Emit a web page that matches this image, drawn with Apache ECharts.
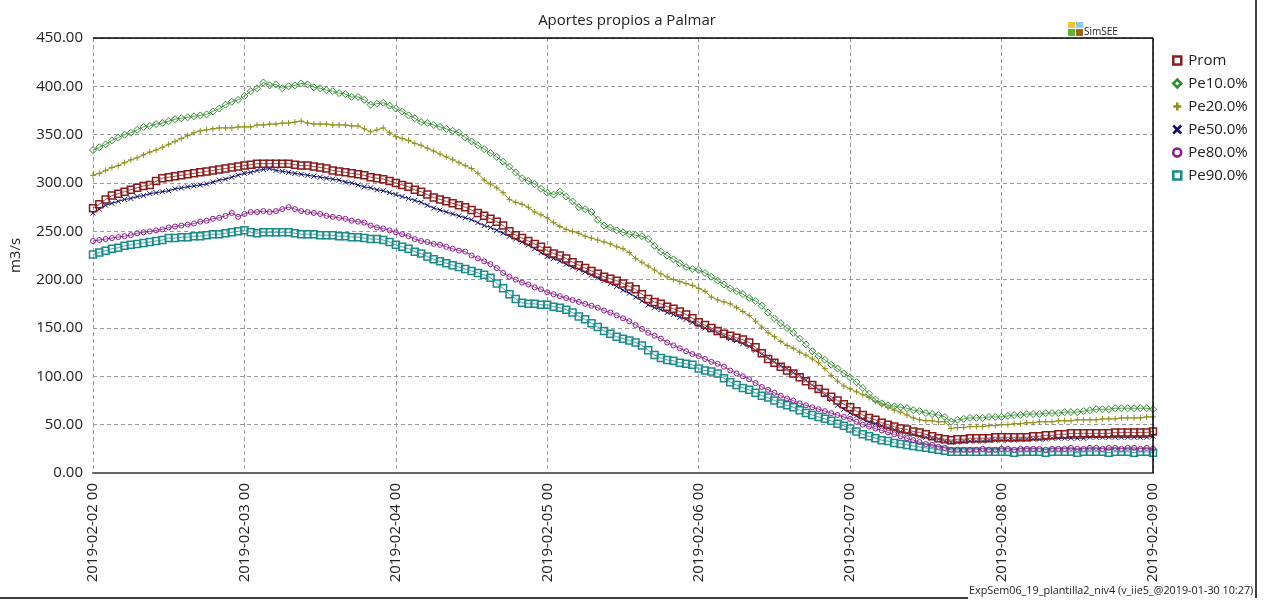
<!DOCTYPE html>
<html><head><meta charset="utf-8">
<script src="https://cdn.jsdelivr.net/npm/echarts@6/dist/echarts.min.js"></script>
<style>html,body{margin:0;padding:0;background:#fff}#c{width:1268px;height:601px}</style>
</head><body><div id="c"></div>
<script>
// hours from 2019-02-02 00 (hourly, 0..168)
const tickLabels = ['2019-02-02 00','2019-02-03 00','2019-02-04 00','2019-02-05 00','2019-02-06 00','2019-02-07 00','2019-02-08 00','2019-02-09 00'];
const seriesNames = ['Prom','Pe10.0%','Pe20.0%','Pe50.0%','Pe80.0%','Pe90.0%'];

const prom = [274,278,283,287,289,291,293,295,297,298,302,305,306,307,308,309,310,311,312,313,314,315,316,317,
318,319,320,320,320,320,320,320,319,318,318,317,316,315,313,312,311,310,309,308,306,305,304,302,
300,298,296,293,291,288,285,283,281,279,277,275,272,269,266,263,260,256,250,246,243,240,237,234,
230,227,225,222,218,215,212,209,206,203,201,199,196,193,190,185,180,177,175,172,170,167,164,160,
156,153,150,147,144,142,140,138,135,130,124,118,114,110,106,103,99,95,91,87,83,79,75,71,
68,64,60,57,55,52,50,48,46,45,43,42,40,38,36,35,34,35,35,36,36,36,36,37,
37,37,37,37,37,38,38,39,39,40,40,41,41,41,41,41,41,41,42,42,42,42,42,42,43];

const pe10 = [334,337,340,344,347,350,352,355,358,359,361,362,364,366,367,368,369,370,371,374,377,381,384,386,
390,395,398,404,401,402,398,400,401,403,402,399,398,396,395,393,392,389,389,386,381,382,383,380,
377,374,370,367,363,362,360,358,356,354,352,347,343,339,335,331,327,322,317,311,305,302,299,294,
290,288,291,286,281,275,273,270,262,256,254,251,249,247,246,245,242,235,229,225,221,217,213,211,
210,207,203,199,195,191,188,185,181,178,173,166,160,155,150,145,139,133,126,121,117,112,108,103,
99,94,88,82,76,72,70,69,68,67,65,64,62,61,60,58,53,55,56,57,57,57,58,58,
58,59,60,60,61,61,61,62,62,62,63,63,63,64,65,66,66,66,67,67,67,67,67,67,66];

const pe20 = [308,310,313,316,318,321,324,326,329,332,334,337,340,343,346,349,352,354,355,356,357,357,357,358,
358,358,360,360,361,361,362,362,363,364,362,361,361,361,360,360,360,359,359,356,353,355,357,352,
348,346,344,341,339,336,333,330,327,324,321,318,315,310,303,299,295,290,283,280,278,275,270,267,
264,259,255,252,250,248,245,243,241,239,237,234,232,228,222,218,214,210,206,203,200,198,196,194,
191,188,182,179,177,175,171,167,163,157,151,145,141,136,132,129,125,122,118,114,108,101,95,90,
87,84,81,78,74,71,68,65,63,60,57,55,54,54,53,53,46,47,47,48,48,48,49,49,
50,50,51,51,52,52,53,53,53,54,54,54,55,55,55,55,56,56,56,57,57,57,57,58,58];

const pe50 = [269,273,277,279,281,283,284,286,287,289,290,291,292,294,295,296,297,298,299,301,303,304,306,308,
310,311,313,314,315,313,312,311,310,309,308,307,306,305,304,303,301,300,298,296,295,293,292,290,
288,286,284,282,280,277,274,272,270,268,266,264,262,259,256,254,251,248,245,242,239,236,232,228,
224,222,219,216,213,211,208,205,202,199,196,193,189,186,182,178,174,171,169,166,164,161,159,156,
153,150,148,145,142,139,137,134,131,127,123,119,115,111,108,104,101,96,91,86,81,76,70,66,
62,59,56,53,51,49,47,45,43,41,40,38,37,36,35,33,32,32,33,33,33,33,34,34,
34,34,34,35,35,35,35,35,36,36,36,36,36,36,37,37,37,37,37,37,37,37,37,37,38];

const pe80 = [240,241,242,243,244,245,246,248,249,250,251,252,254,255,256,257,258,260,261,263,264,266,269,265,
268,270,270,271,270,271,273,275,273,271,270,269,268,266,265,264,263,261,260,259,256,254,253,251,
249,247,245,242,240,239,237,236,234,232,230,229,225,222,219,216,212,207,203,200,197,195,192,190,
187,185,183,181,179,177,175,173,171,168,166,163,160,157,153,149,145,142,139,135,132,129,126,123,
121,118,115,113,110,106,103,100,97,93,89,86,83,80,77,75,72,70,68,66,64,62,60,58,
56,53,50,48,46,44,42,40,38,36,34,32,30,29,27,26,24,24,24,24,24,25,24,24,
25,25,24,25,25,25,25,24,25,25,25,26,25,25,26,26,25,26,26,25,26,26,25,26,25];

const pe90 = [226,228,230,232,233,235,236,237,238,239,240,241,243,243,244,244,245,245,246,247,247,248,249,250,
251,249,248,249,249,249,249,249,248,247,247,247,246,246,246,245,245,244,244,243,242,242,241,239,
236,234,232,229,227,224,221,219,217,215,213,211,209,207,205,202,196,191,185,180,176,175,175,174,
174,172,171,169,166,162,159,155,151,147,144,141,139,137,135,132,127,122,119,117,116,114,113,112,
108,106,105,103,98,94,91,88,86,83,80,78,75,72,70,68,65,62,60,58,56,54,51,49,
46,43,40,38,36,34,33,31,30,29,28,27,26,25,24,23,22,22,22,22,22,22,22,22,
22,22,21,22,22,22,22,21,22,22,22,22,21,22,22,22,22,21,22,22,22,21,22,22,21];

const colors = ['#8b1a1a','#2e8b2e','#8f8f1a','#101070','#8b1a8b','#1a8b8b'];
const symbols = ['rect','diamond','path://M5,0L5,10M0,5L10,5','path://M0,0L10,10M10,0L0,10','circle','rect'];
const sizes = [7,7,6,5,5,7];
const allData = [prom,pe10,pe20,pe50,pe80,pe90];

const series = allData.map((arr, i) => {
  const isPath = symbols[i].startsWith('path');
  return {
    name: seriesNames[i], type: 'line',
    data: arr.map((v, h) => [h, v]),
    symbol: symbols[i], symbolSize: sizes[i], showSymbol: true,
    lineStyle: {color: colors[i], width: 1},
    itemStyle: {color: isPath ? colors[i] : 'rgba(255,255,255,0.2)', borderColor: colors[i], borderWidth: i===0||i===5 ? 1.5 : 1},
    emphasis: {disabled: true},
    animation: false, z: 10 - i
  };
});

const chart = echarts.init(document.getElementById('c'), null, {renderer: 'canvas'});
const font = '"Open Sans", "Noto Sans", sans-serif';
chart.setOption({
  animation: false,
  backgroundColor: '#fff',
  title: {text: 'Aportes propios a Palmar', left: 622, top: 8, textAlign: 'center',
    textStyle: {fontFamily: font, fontSize: 15, fontWeight: 'normal', color: '#222'}},
  grid: {left: 92, right: 115, top: 38, bottom: 128},
  legend: {
    orient: 'vertical', left: 1167, top: 48, itemWidth: 8, itemHeight: 8, itemGap: 8,
    textStyle: {fontFamily: font, fontSize: 15, color: '#222', padding: [0,0,0,2]},
    data: seriesNames.map((n, i) => ({name: n,
      icon: i===2 ? 'path://M5,0L5,10M0,5L10,5' : (i===3 ? 'path://M0,0L10,10M10,0L0,10' : (i===1 ? 'diamond' : (i===4 ? 'circle' : 'rect'))),
      itemStyle: {color: (i===2||i===3) ? colors[i] : '#fff', borderColor: colors[i], borderWidth: 2.5}}))
  },
  xAxis: {
    type: 'value', min: 0, max: 168, interval: 24,
    axisLine: {show: true, onZero: false, lineStyle: {color: '#666', width: 2}},
    axisTick: {show: false},
    axisLabel: {rotate: 90, fontFamily: font, fontSize: 15, color: '#222', margin: 10,
      formatter: v => tickLabels[Math.round(v / 24)] || ''},
    splitLine: {show: true, lineStyle: {color: '#999', type: [4, 3], width: 1}}
  },
  yAxis: {
    type: 'value', min: 0, max: 450, interval: 50,
    name: 'm3/s', nameLocation: 'middle', nameGap: 70, nameRotate: 90, nameMoveOverlap: false,
    nameTextStyle: {fontFamily: font, fontSize: 15, color: '#222'},
    axisLine: {show: false, onZero: false}, axisTick: {show: false},
    axisLabel: {fontFamily: font, fontSize: 15, color: '#222', margin: 10, formatter: v => v.toFixed(2)},
    splitLine: {show: true, lineStyle: {color: '#999', type: [4, 3], width: 1}}
  },
  series: series
});

// frame lines of the plot area and the picture border
const tl = chart.convertToPixel({gridIndex: 0}, [0, 450]);
const br = chart.convertToPixel({gridIndex: 0}, [168, 0]);
chart.setOption({
  graphic: [
    {type: 'line', shape: {x1: tl[0], y1: tl[1], x2: br[0], y2: tl[1]}, style: {stroke: '#000', lineWidth: 1.5}, z: 20},
    {type: 'line', shape: {x1: br[0], y1: tl[1], x2: br[0], y2: br[1]}, style: {stroke: '#000', lineWidth: 1.5}, z: 20},
    {type: 'rect', shape: {x: 1068, y: 22, width: 7, height: 6}, style: {fill: '#f2c530'}},
    {type: 'rect', shape: {x: 1076, y: 22, width: 7, height: 6}, style: {fill: '#8cc8f0'}},
    {type: 'rect', shape: {x: 1068, y: 29, width: 7, height: 7}, style: {fill: '#58b82a'}},
    {type: 'rect', shape: {x: 1076, y: 29, width: 7, height: 7}, style: {fill: '#9a6a12'}},
    {type: 'text', x: 1084, y: 27, style: {text: 'SimSEE', fill: '#222', font: '10px ' + font}},
    {type: 'line', shape: {x1: 1256, y1: 0, x2: 1256, y2: 598}, style: {stroke: '#000', lineWidth: 1.5}},
    {type: 'line', shape: {x1: 0, y1: 598, x2: 968, y2: 598}, style: {stroke: '#000', lineWidth: 1.5}},
    {type: 'text', x: 969, y: 585, style: {text: 'ExpSem06_19_plantilla2_niv4 (v_iie5_@2019-01-30 10:27)', fill: '#222', font: '10.8px ' + font}}
  ]
});
</script>
</body></html>
